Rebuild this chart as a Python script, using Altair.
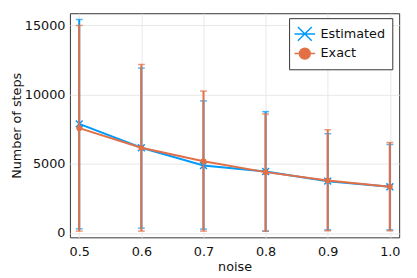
import altair as alt
import pandas as pd

noise = [0.5, 0.6, 0.7, 0.8, 0.9, 1.0]
est_mean = [7890, 6160, 4880, 4450, 3750, 3340]
est_lo = [305, 355, 285, 140, 235, 235]
est_hi = [15430, 11920, 9550, 8770, 7180, 6400]
exact_mean = [7580, 6160, 5190, 4400, 3800, 3340]
exact_lo = [140, 140, 140, 140, 160, 160]
exact_hi = [15000, 12180, 10260, 8600, 7460, 6540]
series = ["Estimated", "Exact"]
colors = ["#009AFA", "#E26F46"]

rows = []
for name, m, lo, hi in [(series[0], est_mean, est_lo, est_hi),
                        (series[1], exact_mean, exact_lo, exact_hi)]:
    for i, xv in enumerate(noise):
        rows.append(dict(noise=xv, series=name, mean=m[i], lo=lo[i], hi=hi[i]))
df = pd.DataFrame(rows)

xs = alt.Scale(domain=[0.485, 1.015], nice=False, zero=False)
ys = alt.Scale(domain=[-310, 15880], nice=False, zero=False)
X = alt.X("noise:Q", scale=xs, title="noise",
          axis=alt.Axis(values=noise, format=".1f"))
Y = alt.Y("mean:Q", scale=ys, title="Number of steps",
          axis=alt.Axis(values=[0, 5000, 10000, 15000], format="d"))

layers = []
for name, col, shape in [(series[0], colors[0], "M-1,-1L1,1M-1,1L1,-1"),
                         (series[1], colors[1], "circle")]:
    base = alt.Chart(df).transform_filter(alt.datum.series == name)
    layers.append(base.mark_rule(color=col, strokeWidth=2).encode(
        x=X, y=alt.Y("lo:Q", scale=ys), y2="hi:Q"))
    layers.append(base.mark_tick(color=col, orient="horizontal", size=7, thickness=1.5).encode(
        x=X, y=alt.Y("hi:Q", scale=ys)))
    layers.append(base.mark_tick(color=col, orient="horizontal", size=7, thickness=1.5).encode(
        x=X, y=alt.Y("lo:Q", scale=ys)))
    layers.append(base.mark_line(color=col, strokeWidth=2).encode(x=X, y=Y))
    if shape == "circle":
        layers.append(base.mark_point(shape="circle", filled=True, color=col, size=34, opacity=1).encode(x=X, y=Y))
    else:
        layers.append(base.mark_point(shape=shape, filled=False, color=col, size=49,
                                      strokeWidth=1.5, opacity=1).encode(x=X, y=Y))

# legend-only layer (no drawn points)
leg_df = pd.DataFrame({"series": series, "noise": [None, None], "mean": [None, None]})
est_path = "M-1.31,0L1.31,0M-0.88,-0.88L0.88,0.88M-0.88,0.88L0.88,-0.88"
exact_path = "M-1.31,0L1.31,0M0.69,0A0.69,0.69,0,1,1,-0.69,0A0.69,0.69,0,1,1,0.69,0Z"
cscale = alt.Scale(domain=series, range=colors)
legend = alt.Legend(title=None, orient="none", legendX=223, legendY=5,
                    padding=7, rowPadding=0, labelOffset=7,
                    fillColor="white", strokeColor="#333333",
                    symbolStrokeWidth=1.5, symbolSize=256,
                    labelFont="DejaVu Sans", labelFontSize=13, labelColor="#111111")
layers.append(alt.Chart(leg_df).mark_point(filled=True, opacity=1, strokeWidth=1.5).encode(
    x=alt.X("noise:Q", scale=xs),
    y=alt.Y("mean:Q", scale=ys),
    color=alt.Color("series:N", scale=cscale, legend=legend),
    stroke=alt.Stroke("series:N", scale=cscale, legend=legend),
    shape=alt.Shape("series:N", scale=alt.Scale(domain=series, range=[est_path, exact_path]), legend=legend),
))

chart = alt.layer(*layers).properties(
    width=335, height=228,
    autosize=alt.AutoSizeParams(type="none"),
    padding={"left": 63, "top": 3, "right": 10, "bottom": 38},
).configure_view(
    stroke="#333333", strokeWidth=1
).configure_axis(
    domain=False, ticks=False, grid=True, gridColor="#e8e8e8", gridWidth=1,
    labelFont="DejaVu Sans", labelFontSize=13, labelColor="#111111",
    titleFont="DejaVu Sans", titleFontSize=13, titleFontWeight="normal", titleColor="#111111",
).configure_axisY(titlePadding=1, labelPadding=5).configure_axisX(titlePadding=3, labelPadding=8)

chart.save("out.html", embed_options={"renderer": "svg", "actions": False})
